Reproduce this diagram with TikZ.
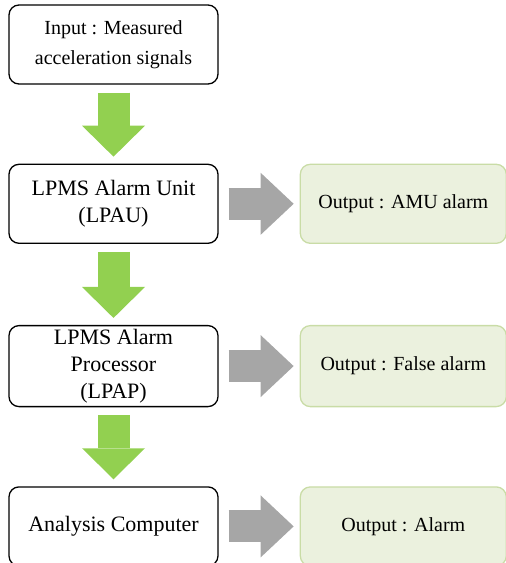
\documentclass[tikz,border=0pt]{standalone}
\usepackage{fontspec}
\setmainfont{Liberation Serif}
\usetikzlibrary{positioning,arrows.meta}
\definecolor{arrowgreen}{HTML}{92D050}
\definecolor{arrowgray}{HTML}{A6A6A6}
\definecolor{outfill}{HTML}{EBF1DE}
\definecolor{outborder}{HTML}{C9DCA6}

\begin{document}
\begin{tikzpicture}[x=1pt,y=-1pt]
	\tikzstyle{block} = [draw, rounded corners=10pt, line width=1.3pt, minimum width=209pt, minimum height=79pt, align=center, inner sep=0pt, font={\rmfamily\fontsize{22}{27}\selectfont}];
	\tikzstyle{output} = [draw=outborder, fill=outfill, rounded corners=10pt, line width=1.3pt, minimum width=206pt, minimum height=79pt, align=center, inner sep=0pt, font={\rmfamily\fontsize{20}{24}\selectfont}];
	\tikzstyle{down} = [arrowgreen, line width=32pt, shorten <=8pt, shorten >=7pt, -{Triangle[width=63pt, length=31pt, line width=0pt]}];
	\tikzstyle{side} = [arrowgray, line width=32pt, shorten <=10pt, shorten >=6pt, -{Triangle[width=62pt, length=33pt, line width=0pt]}];

	\useasboundingbox (0,0) rectangle (506,563);

	% left column
	\node[block, font={\rmfamily\fontsize{20}{30}\selectfont}] (in) at (113.5,44.5) {Input : Measured\\acceleration signals};
	\node[block, below=79pt of in] (lpau) {LPMS Alarm Unit\\(LPAU)};
	\node[block, minimum height=81pt, below=81pt of lpau] (lpap) {LPMS Alarm\\Processor\\(LPAP)};
	\node[block, below=79pt of lpap] (ac) {Analysis Computer};

	% outputs
	\node[output, right=81pt of lpau] (amu) {Output : AMU alarm};
	\node[output, minimum height=81pt, right=81pt of lpap] (false) {Output : False alarm};
	\node[output, right=81pt of ac] (alarm) {Output : Alarm};

	\draw[down] (in) -- (lpau);
	\draw[down] (lpau) -- (lpap);
	\draw[down] (lpap) -- (ac);

	\draw[side] (lpau) -- (amu);
	\draw[side] (lpap) -- (false);
	\draw[side] (ac) -- (alarm);
\end{tikzpicture}
\end{document}
